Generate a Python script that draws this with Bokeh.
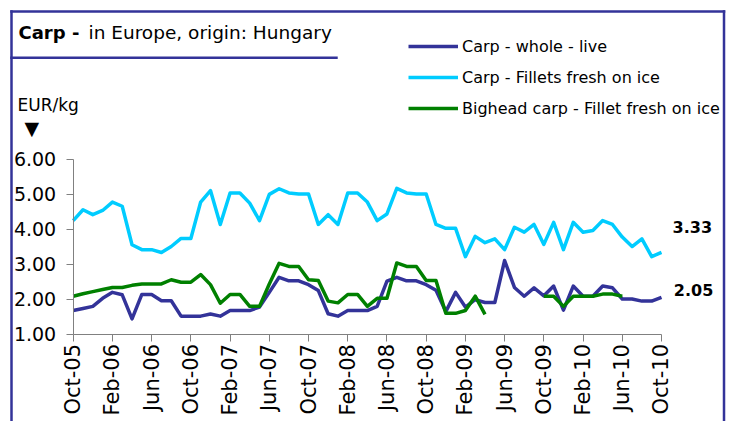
import math
from bokeh.plotting import figure
from bokeh.models import (Range1d, FixedTicker, Label, Arrow, Legend, LegendItem,
                          NumeralTickFormatter, LinearAxis)
from bokeh.embed import file_html
from bokeh.resources import INLINE

nan = float("nan")

# month index 0 = Oct-05 ... 60 = Oct-10
month_index = list(range(61))
tick_positions = list(range(0, 61, 4))
tick_labels = ["Oct-05", "Feb-06", "Jun-06", "Oct-06", "Feb-07", "Jun-07", "Oct-07",
               "Feb-08", "Jun-08", "Oct-08", "Feb-09", "Jun-09", "Oct-09", "Feb-10",
               "Jun-10", "Oct-10"]
y_ticks = [1, 2, 3, 4, 5, 6]

series_names = ["Carp - whole - live", "Carp - Fillets fresh on ice",
                "Bighead carp - Fillet fresh on ice"]

carp_whole_live = [
    1.67, 1.73, 1.79, 2.02, 2.19, 2.12, 1.43, 2.13, 2.13, 1.95,
    1.95, 1.51, 1.51, 1.51, 1.57, 1.51, 1.67, 1.67, 1.67, 1.77,
    2.19, 2.62, 2.52, 2.52, 2.41, 2.24, 1.58, 1.51, 1.67, 1.67,
    1.67, 1.79, 2.51, 2.62, 2.52, 2.52, 2.41, 2.25, 1.64, 2.19,
    1.77, 1.98, 1.90, 1.90, 3.10, 2.33, 2.08, 2.32, 2.09, 2.37,
    1.68, 2.37, 2.08, 2.08, 2.37, 2.32, 2.00, 2.00, 1.94, 1.94,
    2.05]

carp_fillets = [
    4.24, 4.55, 4.41, 4.53, 4.77, 4.65, 3.55, 3.41, 3.41, 3.33,
    3.50, 3.73, 3.73, 4.77, 5.10, 4.13, 5.03, 5.03, 4.74, 4.24,
    4.99, 5.15, 5.03, 5.00, 5.00, 4.13, 4.41, 4.13, 5.03, 5.03,
    4.77, 4.24, 4.43, 5.16, 5.03, 5.00, 5.00, 4.13, 4.02, 4.02,
    3.21, 3.79, 3.61, 3.72, 3.41, 4.05, 3.91, 4.13, 3.56, 4.19,
    3.41, 4.19, 3.91, 3.96, 4.24, 4.13, 3.77, 3.50, 3.72, 3.21,
    3.33]

bighead_fillet = [
    2.08, 2.15, 2.21, 2.27, 2.33, 2.33, 2.39, 2.43, 2.43, 2.43,
    2.55, 2.48, 2.48, 2.70, 2.41, 1.88, 2.13, 2.13, 1.79, 1.79,
    2.43, 3.02, 2.93, 2.93, 2.55, 2.53, 1.94, 1.89, 2.13, 2.13,
    1.79, 2.02, 2.02, 3.03, 2.93, 2.93, 2.53, 2.53, 1.59, 1.59,
    1.67, 2.08, 1.56, nan, nan, nan, nan, nan, 2.08, 2.08,
    1.79, 2.08, 2.08, 2.08, 2.14, 2.14, 2.08, nan, nan, nan,
    nan]

last_labels = ["3.33", "2.05"]

NAVY = "#333399"
CYAN = "#00CCFF"
GREEN = "#008000"
FONT = "DejaVu Sans"

# The frame covers the whole canvas; axes are pinned at the data origin.
p = figure(width=732, height=421, output_backend="svg", toolbar_location=None,
           x_range=Range1d(-7.415, 67.241), y_range=Range1d(-1.5, 10.529),
           x_axis_type=None, y_axis_type=None,
           min_border=0, min_border_left=0, min_border_right=0,
           min_border_top=0, min_border_bottom=0)
p.outline_line_color = None
p.grid.visible = False
p.background_fill_color = "white"
p.border_fill_color = "white"

xaxis = LinearAxis(fixed_location=y_ticks[0], bounds=(tick_positions[0], tick_positions[-1]),
                   ticker=FixedTicker(ticks=tick_positions),
                   major_label_overrides={t: l for t, l in zip(tick_positions, tick_labels)},
                   major_label_orientation=math.pi / 2)
yaxis = LinearAxis(fixed_location=tick_positions[0], bounds=(y_ticks[0], y_ticks[-1]),
                   ticker=FixedTicker(ticks=y_ticks),
                   formatter=NumeralTickFormatter(format="0.00"))
for ax in (xaxis, yaxis):
    ax.axis_line_color = "#808080"
    ax.axis_line_width = 1
    ax.major_tick_line_color = "#808080"
    ax.major_tick_in = 0
    ax.major_tick_out = 7
    ax.minor_tick_line_color = None
    ax.major_label_text_font = FONT
    ax.major_label_text_color = "black"
xaxis.major_label_text_font_size = "21px"
xaxis.major_label_standoff = 3
yaxis.major_label_text_font_size = "19px"
yaxis.major_label_standoff = 10
p.add_layout(xaxis, "below")
p.add_layout(yaxis, "left")

# lines
r_fil = p.line(month_index, carp_fillets, line_color=CYAN, line_width=3.5, line_join="round")
r_whole = p.line(month_index, carp_whole_live, line_color=NAVY, line_width=3.5, line_join="round")
r_big = p.line(month_index, bighead_fillet, line_color=GREEN, line_width=3.5, line_join="round")

legend = Legend(items=[LegendItem(label=series_names[0], renderers=[r_whole]),
                       LegendItem(label=series_names[1], renderers=[r_fil]),
                       LegendItem(label=series_names[2], renderers=[r_big])],
                location=(408, 303), orientation="vertical",
                glyph_width=50, glyph_height=20, label_height=20, spacing=11,
                label_standoff=4, padding=0, margin=0,
                border_line_color=None, background_fill_alpha=0,
                label_text_font=FONT, label_text_font_size="16px",
                label_text_color="black")
p.add_layout(legend)

# texts (positions in data units of the plot)
p.add_layout(Label(x=-5.579, y=9.623, text="Carp -", text_font=FONT, text_font_size="18px",
                   text_font_style="bold", text_color="black", text_baseline="alphabetic"))
p.add_layout(Label(x=1.56, y=9.623, text="in Europe, origin: Hungary", text_font=FONT,
                   text_font_size="18.5px", text_color="black", text_baseline="alphabetic"))
p.add_layout(Label(x=-5.681, y=7.557, text="EUR/kg", text_font=FONT, text_font_size="17px",
                   text_color="black", text_baseline="alphabetic"))
p.add_layout(Label(x=-4.222, y=6.886, text="\u25BC", text_font=FONT, text_font_size="19px",
                   text_color="black", text_align="center", text_baseline="middle"))
p.add_layout(Label(x=61.13, y=4.071, text=last_labels[0], text_font=FONT, text_font_size="16px",
                   text_font_style="bold", text_color="black", text_baseline="middle"))
p.add_layout(Label(x=61.26, y=2.271, text=last_labels[1], text_font=FONT, text_font_size="16px",
                   text_font_style="bold", text_color="black", text_baseline="middle"))

# frame border (top, left, right) and title underline
border_left, border_right, border_top, page_bottom = -6.293, 66.375, 10.214, -1.5
for xs, ys, xe, ye in [(border_left, border_top, border_right, border_top),
                       (border_left, border_top, border_left, page_bottom),
                       (border_right, border_top, border_right, page_bottom),
                       (border_left, 8.891, 26.85, 8.891)]:
    p.add_layout(Arrow(end=None, x_start=xs, y_start=ys, x_end=xe, y_end=ye,
                       line_color=NAVY, line_width=2.5, line_cap="square"))

open("out.html", "w").write(file_html(p, INLINE))
